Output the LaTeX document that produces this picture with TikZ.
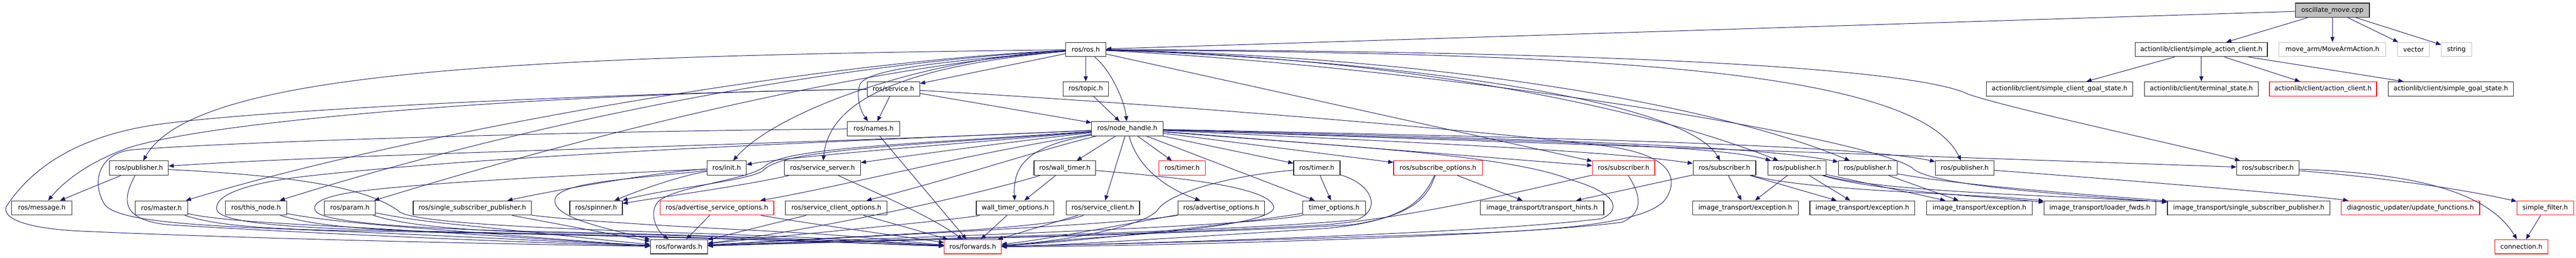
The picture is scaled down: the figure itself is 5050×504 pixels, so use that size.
\documentclass[tikz,border=0pt]{standalone}
\usepackage{fontspec}
\setmainfont{DejaVu Sans}
\usetikzlibrary{arrows.meta}
\definecolor{edgecol}{RGB}{25,25,112}
\definecolor{boxcol}{RGB}{30,30,30}
\definecolor{redcol}{RGB}{255,0,0}
\definecolor{lightcol}{RGB}{191,191,191}
\begin{document}
\begin{tikzpicture}[x=1pt,y=-1pt,
  box/.style={draw=boxcol,line width=1.2pt,fill=white,inner sep=0pt,minimum height=28pt,font=\fontsize{12.75pt}{15pt}\selectfont},
  redbox/.style={box,draw=redcol},
  lightbox/.style={box,draw=lightcol},
  dep/.style={draw=edgecol,line width=1pt,-{Triangle[length=10pt,width=8pt]}}]
\fill[white] (0,0) rectangle (5050,504);
\useasboundingbox (0,0) rectangle (5050,504);
% row 0,1
\node[box,fill=lightcol,minimum width=145pt] (n0) at (4572.5,20) {oscillate\_move.cpp};
\node[box,minimum width=79pt] (n1) at (2128.5,97) {ros/ros.h};
\node[box,minimum width=259pt] (n2) at (4315.5,97) {actionlib/client/simple\_action\_client.h};
\node[lightbox,minimum width=209pt] (n3) at (4572.5,97) {move\_arm/MoveArmAction.h};
\node[lightbox,minimum width=63pt] (n4) at (4731.5,97) {vector};
\node[lightbox,minimum width=59pt] (n5) at (4815.5,97) {string};
% row 2
\node[box,minimum width=103pt] (n6) at (1751.5,174) {ros/service.h};
\node[box,minimum width=89pt] (n7) at (2128.5,174) {ros/topic.h};
\node[box,minimum width=287pt] (n8) at (4037.5,174) {actionlib/client/simple\_client\_goal\_state.h};
\node[box,minimum width=223pt] (n9) at (4315.5,174) {actionlib/client/terminal\_state.h};
\node[redbox,minimum width=210pt] (n10) at (4554,174) {actionlib/client/action\_client.h};
\node[box,minimum width=245pt] (n11) at (4804.5,174) {actionlib/client/simple\_goal\_state.h};
% row 3
\node[box,minimum width=103pt] (n12) at (1712.5,252) {ros/names.h};
\node[box,minimum width=140pt] (n13) at (2210,252) {ros/node\_handle.h};
% row 4
\node[box,minimum width=115pt] (n14) at (272.5,329) {ros/publisher.h};
\node[box,minimum width=77pt] (n15) at (1424.5,329) {ros/init.h};
\node[box,minimum width=149pt] (n16) at (1612.5,329) {ros/service\_server.h};
\node[box,minimum width=121pt] (n17) at (2087.5,329) {ros/wall\_timer.h};
\node[redbox,minimum width=91pt] (n18) at (2317.5,329) {ros/timer.h};
\node[box,minimum width=91pt] (n19) at (2581.5,329) {ros/timer.h};
\node[redbox,minimum width=174pt] (n20) at (2819,329) {ros/subscribe\_options.h};
\node[redbox,minimum width=122pt] (n21) at (3183,329) {ros/subscriber.h};
\node[box,minimum width=123pt] (n22) at (3380.5,329) {ros/subscriber.h};
\node[box,minimum width=114pt] (n23) at (3523,329) {ros/publisher.h};
\node[box,minimum width=115pt] (n24) at (3661.5,329) {ros/publisher.h};
\node[box,minimum width=115pt] (n25) at (3851.5,329) {ros/publisher.h};
\node[box,minimum width=122pt] (n26) at (4446,329) {ros/subscriber.h};
% row 5
\node[box,minimum width=118pt] (n27) at (82,407) {ros/message.h};
\node[box,minimum width=103pt] (n28) at (316.5,407) {ros/master.h};
\node[box,minimum width=120pt] (n29) at (502,407) {ros/this\_node.h};
\node[box,minimum width=100pt] (n30) at (686,407) {ros/param.h};
\node[box,minimum width=232pt] (n31) at (926,407) {ros/single\_subscriber\_publisher.h};
\node[box,minimum width=103pt] (n32) at (1168.5,407) {ros/spinner.h};
\node[redbox,minimum width=223pt] (n33) at (1405.5,407) {ros/advertise\_service\_options.h};
\node[box,minimum width=199pt] (n34) at (1639.5,407) {ros/service\_client\_options.h};
\node[box,minimum width=152pt] (n35) at (1990,407) {wall\_timer\_options.h};
\node[box,minimum width=144pt] (n36) at (2162,407) {ros/service\_client.h};
\node[box,minimum width=170pt] (n37) at (2394,407) {ros/advertise\_options.h};
\node[box,minimum width=123pt] (n38) at (2615.5,407) {timer\_options.h};
\node[box,minimum width=242pt] (n39) at (3023,407) {image\_transport/transport\_hints.h};
\node[box,minimum width=207pt] (n40) at (3421.5,407) {image\_transport/exception.h};
\node[box,minimum width=206pt] (n41) at (3651,407) {image\_transport/exception.h};
\node[box,minimum width=207pt] (n42) at (3880.5,407) {image\_transport/exception.h};
\node[box,minimum width=219pt] (n43) at (4116.5,407) {image\_transport/loader\_fwds.h};
\node[box,minimum width=319pt] (n44) at (4408.5,407) {image\_transport/single\_subscriber\_publisher.h};
\node[redbox,minimum width=271pt] (n45) at (4725.5,407) {diagnostic\_updater/update\_functions.h};
\node[redbox,minimum width=111pt] (n46) at (4989.5,407) {simple\_filter.h};
% row 6
\node[box,minimum width=112pt] (n47) at (1331,483) {ros/forwards.h};
\node[redbox,minimum width=112pt] (n48) at (1907,483) {ros/forwards.h};
\node[redbox,minimum width=104pt] (n49) at (4943,483) {connection.h};

% ---- top
\draw[dep] (n0) -- (n1);
\draw[dep] (n0) -- (n2);
\draw[dep] (n0) -- (n3);
\draw[dep] (n0) -- (n4);
\draw[dep] (n0) -- (n5);
\draw[dep] (n2) -- (n8);
\draw[dep] (n2) -- (n9);
\draw[dep] (n2) -- (n10);
\draw[dep] (n2) -- (n11);
% ---- ros.h
\draw[dep] (n1) -- (n7);
\draw[dep] (n1) .. controls (2180,140) and (2205,200) .. (n13);
\draw[dep] (n7) -- (n13);
\draw[dep] (n1) -- (n6);
\draw[dep] (n1) .. controls (1850,120) and (1700,135) .. (1686,165) .. controls (1678,185) and (1685,215) .. (n12);
\draw[dep] (n1) .. controls (1000,110) and (380,140) .. (n14);
\draw[dep] (n1) .. controls (1800,115) and (1520,220) .. (n15);
\draw[dep] (n1) .. controls (1760,130) and (1625,200) .. (n16);
\draw[dep] (n1) .. controls (1600,120) and (800,260) .. (n28);
\draw[dep] (n1) .. controls (1600,125) and (1000,250) .. (n29);
\draw[dep] (n1) .. controls (1650,135) and (1100,280) .. (n30);
\draw[dep] (n1) -- (n21);
\draw[dep] (n1) .. controls (2700,115) and (3300,190) .. (n22);
\draw[dep] (n1) .. controls (2700,110) and (3200,200) .. (n23);
\draw[dep] (n1) .. controls (2800,110) and (3350,200) .. (n24);
\draw[dep] (n1) .. controls (3000,105) and (3750,120) .. (n25);
\draw[dep] (n1) .. controls (3200,100) and (3760,135) .. (3860,185) .. controls (3950,215) and (4300,290) .. (n26);
\draw[dep] (n1) .. controls (2800,130) and (3650,265) .. (3748,328) .. controls (3775,360) and (4000,378) .. (n44);
% ---- node_handle.h
\draw[dep] (n13) .. controls (1500,285) and (700,300) .. (n14);
\draw[dep] (n13) .. controls (1900,280) and (1560,305) .. (n15);
\draw[dep] (n13) .. controls (2000,275) and (1780,305) .. (n16);
\draw[dep] (n13) .. controls (1800,285) and (1530,290) .. (1495,335) .. controls (1460,355) and (1300,370) .. (n32);
\draw[dep] (n13) .. controls (1900,300) and (1650,365) .. (n33);
\draw[dep] (n13) .. controls (2050,290) and (1850,355) .. (n34);
\draw[dep] (n13) .. controls (2020,285) and (1985,320) .. (n35);
\draw[dep] (n13) -- (n17);
\draw[dep] (n13) -- (n18);
\draw[dep] (n13) -- (n36);
\draw[dep] (n13) .. controls (2230,330) and (2290,370) .. (n37);
\draw[dep] (n13) -- (n38);
\draw[dep] (n13) -- (n19);
\draw[dep] (n13) -- (n20);
\draw[dep] (n13) -- (n21);
\draw[dep] (n13) .. controls (2800,280) and (3150,295) .. (n22);
\draw[dep] (n13) .. controls (2900,275) and (3350,280) .. (n23);
\draw[dep] (n13) .. controls (3000,272) and (3450,285) .. (n24);
\draw[dep] (n13) .. controls (3100,270) and (3650,285) .. (n25);
\draw[dep] (n13) -- (n26);
\draw[dep] (n13) .. controls (1800,282) and (1540,288) .. (1500,325) .. controls (1470,352) and (1320,365) .. (1290,395) .. controls (1272,415) and (1285,450) .. (n47);
\draw[dep] (n13) .. controls (1700,275) and (1000,300) .. (600,345) .. controls (470,360) and (420,385) .. (425,410) .. controls (430,435) and (550,446) .. (800,452) .. controls (1400,464) and (1750,478) .. (n48);
\draw[dep] (n13) .. controls (2600,285) and (2950,300) .. (3080,352) .. controls (3170,378) and (3180,410) .. (3140,428) .. controls (2900,458) and (2200,478) .. (n48);
% ---- service.h, names.h
\draw[dep] (n6) -- (n12);
\draw[dep] (n6) -- (n13);
\draw[dep] (n6) .. controls (1000,185) and (400,240) .. (250,290) .. controls (180,315) and (130,350) .. (n27);
\draw[dep] (n6) .. controls (1200,182) and (500,215) .. (300,245) .. controls (150,268) and (60,330) .. (12,405) .. controls (4,430) and (60,447) .. (150,452) .. controls (500,468) and (1000,478) .. (n47);
\draw[dep] (n6) .. controls (2300,205) and (2900,255) .. (3140,285) .. controls (3270,300) and (3295,345) .. (3265,390) .. controls (3235,430) and (3100,448) .. (2900,456) .. controls (2500,470) and (2100,480) .. (n48);
\draw[dep] (n12) .. controls (1200,256) and (500,275) .. (260,293) .. controls (190,300) and (180,360) .. (205,400) .. controls (230,435) and (400,442) .. (600,450) .. controls (900,462) and (1150,476) .. (n47);
\draw[dep] (n12) -- (n48);
% ---- left row 4/5
\draw[dep] (n14) -- (n27);
\draw[dep] (n14) .. controls (240,390) and (235,430) .. (330,440) .. controls (700,462) and (1100,477) .. (n47);
\draw[dep] (n14) .. controls (600,345) and (720,370) .. (780,412) .. controls (800,438) and (1100,448) .. (1400,458) .. controls (1650,466) and (1800,478) .. (n48);
\draw[dep] (n28) .. controls (400,425) and (450,432) .. (600,440) .. controls (900,455) and (1150,475) .. (n47);
\draw[dep] (n28) .. controls (420,440) and (500,448) .. (700,452) .. controls (1300,462) and (1700,476) .. (n48);
\draw[dep] (n29) .. controls (600,425) and (650,433) .. (800,445) .. controls (1000,460) and (1180,476) .. (n47);
\draw[dep] (n29) .. controls (610,440) and (700,450) .. (900,455) .. controls (1400,463) and (1700,477) .. (n48);
\draw[dep] (n30) .. controls (780,425) and (820,432) .. (900,440) .. controls (1050,455) and (1200,472) .. (n47);
\draw[dep] (n30) .. controls (790,440) and (900,452) .. (1100,456) .. controls (1500,463) and (1700,478) .. (n48);
\draw[dep] (n31) -- (n47);
\draw[dep] (n31) .. controls (1130,432) and (1300,442) .. (1500,452) .. controls (1700,462) and (1800,476) .. (n48);
% ---- init, service_server
\draw[dep] (n15) .. controls (1300,335) and (1100,370) .. (n31);
\draw[dep] (n15) .. controls (1330,345) and (1260,370) .. (n32);
\draw[dep] (n15) .. controls (1250,350) and (1095,355) .. (1088,390) .. controls (1082,425) and (1180,445) .. (n47);
\draw[dep] (n15) .. controls (1200,340) and (850,355) .. (700,375) .. controls (630,385) and (612,398) .. (618,412) .. controls (628,435) and (800,446) .. (1000,452) .. controls (1500,462) and (1760,476) .. (n48);
\draw[dep] (n16) .. controls (1450,365) and (1300,385) .. (n32);
\draw[dep] (n16) .. controls (1700,370) and (1820,420) .. (n48);
% ---- row 5 options to forwards
\draw[dep] (n33) -- (n47);
\draw[dep] (n33) .. controls (1600,440) and (1750,460) .. (n48);
\draw[dep] (n34) -- (n47);
\draw[dep] (n34) .. controls (1760,440) and (1830,460) .. (n48);
\draw[dep] (n35) .. controls (1880,430) and (1600,455) .. (n47);
\draw[dep] (n35) -- (n48);
\draw[dep] (n36) .. controls (2050,450) and (1700,460) .. (n47);
\draw[dep] (n36) -- (n48);
\draw[dep] (n37) .. controls (2200,440) and (1700,462) .. (n47);
\draw[dep] (n37) .. controls (2250,430) and (2050,470) .. (n48);
\draw[dep] (n38) .. controls (2450,445) and (1750,465) .. (n47);
\draw[dep] (n38) .. controls (2450,435) and (2100,475) .. (n48);
% ---- timers
\draw[dep] (n17) -- (n35);
\draw[dep] (n17) .. controls (1900,385) and (1600,450) .. (n47);
\draw[dep] (n17) .. controls (2350,350) and (2490,370) .. (2497,405) .. controls (2502,435) and (2300,455) .. (2150,465) .. controls (2050,472) and (2000,480) .. (n48);
\draw[dep] (n19) -- (n38);
\draw[dep] (n19) .. controls (2690,360) and (2710,410) .. (2660,430) .. controls (2400,455) and (1750,468) .. (n47);
\draw[dep] (n19) .. controls (2400,345) and (2290,380) .. (2270,410) .. controls (2250,440) and (2100,472) .. (n48);
% ---- subscribe options, subscriber
\draw[dep] (n20) -- (n39);
\draw[dep] (n20) .. controls (2800,380) and (2780,420) .. (2650,440) .. controls (2300,460) and (1750,470) .. (n47);
\draw[dep] (n20) .. controls (2790,390) and (2760,432) .. (2600,447) .. controls (2300,466) and (2050,482) .. (n48);
\draw[dep] (n21) .. controls (3000,370) and (2800,420) .. (2600,440) .. controls (2200,462) and (1750,470) .. (n47);
\draw[dep] (n21) .. controls (3215,380) and (3225,415) .. (3180,435) .. controls (2950,465) and (2200,483) .. (n48);
% ---- image_transport
\draw[dep] (n22) -- (n39);
\draw[dep] (n22) -- (n40);
\draw[dep] (n22) -- (n41);
\draw[dep] (n22) .. controls (3550,375) and (3900,380) .. (n43);
\draw[dep] (n23) -- (n40);
\draw[dep] (n23) -- (n41);
\draw[dep] (n23) -- (n42);
\draw[dep] (n23) .. controls (3680,375) and (3900,385) .. (n43);
\draw[dep] (n23) .. controls (3700,378) and (4100,385) .. (n44);
\draw[dep] (n24) -- (n42);
\draw[dep] (n24) .. controls (3850,365) and (4150,385) .. (n44);
% ---- right end
\draw[dep] (n25) .. controls (4200,355) and (4500,380) .. (n45);
\draw[dep] (n26) .. controls (4700,350) and (4850,375) .. (n46);
\draw[dep] (n26) .. controls (4750,340) and (4880,380) .. (n49);
\draw[dep] (n46) -- (n49);
\end{tikzpicture}
\end{document}
